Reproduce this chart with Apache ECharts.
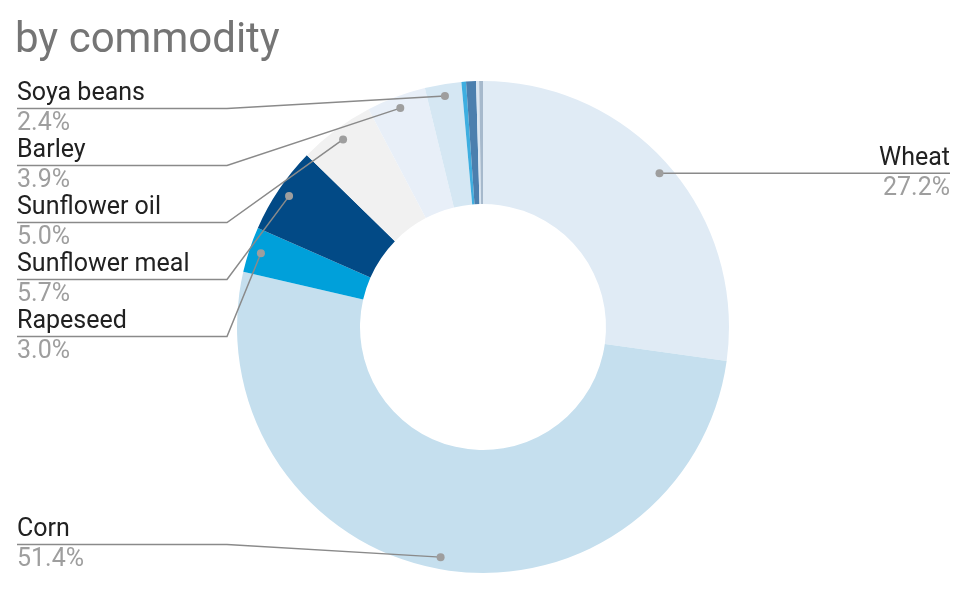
<!DOCTYPE html>
<html>
<head>
<meta charset="utf-8">
<script src="https://cdn.jsdelivr.net/npm/echarts@6/dist/echarts.min.js"></script>
<style>
  html, body { margin: 0; padding: 0; background: #fff; }
  #chart { width: 974px; height: 592px; }
</style>
</head>
<body>
<div id="chart"></div>
<script>
// slices, clockwise from 12 o'clock
var names = ['Wheat', 'Corn', 'Rapeseed', 'Sunflower meal', 'Sunflower oil', 'Barley', 'Soya beans',
  'Other 1', 'Other 2', 'Other 3', 'Other 4'];
var shares = [27.2, 51.4, 3.0, 5.7, 5.0, 3.9, 2.4, 0.3, 0.65, 0.2, 0.25];
var labelled = [true, true, true, true, true, true, true, false, false, false, false];
var colors = ['#e0ebf5', '#c5dfee', '#00a0da', '#024a86', '#f1f1f1', '#e8eff8', '#d5e7f3',
  '#3eaee0', '#4b7fae', '#dae6f1', '#a6b9cc'];

// pie box and geometry
var box = { left: 17, top: 80, right: 24, bottom: 19 };
var center = [466, 247];
var radius = [123, 246];
var cx = box.left + center[0];
var cy = box.top + center[1];
var dotR = 234;

var total = 0;
shares.forEach(function (v) { total += v; });

var sliceData = names.map(function (n, i) {
  return { name: n, value: shares[i], itemStyle: { color: colors[i] } };
});
var labelData = names.map(function (n, i) {
  return {
    name: n,
    value: shares[i],
    label: { show: labelled[i] },
    labelLine: { show: labelled[i] }
  };
});

var pieBase = {
  type: 'pie',
  left: box.left,
  top: box.top,
  right: box.right,
  bottom: box.bottom,
  center: center,
  radius: radius,
  startAngle: 90,
  clockwise: true,
  silent: true,
  emphasis: { disabled: true }
};

var chart = echarts.init(document.getElementById('chart'));
chart.setOption({
  animation: false,
  textStyle: { fontFamily: 'Roboto' },
  title: {
    text: 'by commodity',
    left: 10,
    top: 15,
    textStyle: { fontSize: 42, fontWeight: 'normal', color: '#757575', fontFamily: 'Roboto' }
  },
  series: [
    Object.assign({}, pieBase, {
      z: 1,
      label: { show: false },
      labelLine: { show: false },
      data: sliceData
    }),
    Object.assign({}, pieBase, {
      // transparent copy that carries the labels, so leader lines sit on top of the slices
      z: 3,
      itemStyle: { color: 'rgba(0,0,0,0)' },
      label: {
        alignTo: 'edge',
        edgeDistance: 0,
        distanceToLabelLine: 0,
        formatter: function (p) {
          return '{n|' + p.name + '}\n{p|' + p.value.toFixed(1) + '%}';
        },
        rich: {
          n: { fontSize: 25, color: '#212121', lineHeight: 30, fontFamily: 'Roboto' },
          p: { fontSize: 25, color: '#9e9e9e', lineHeight: 30, fontFamily: 'Roboto' }
        }
      },
      labelLine: {
        show: true,
        length: -12,
        length2: 10,
        lineStyle: { color: '#8a8a8a', width: 1.5 }
      },
      labelLayout: function (params) {
        var pts = params.labelLinePoints;
        if (!pts) return;
        var p0 = pts[0];
        var dx = p0[0] - cx, dy = p0[1] - cy;
        var len = Math.sqrt(dx * dx + dy * dy);
        var dot = [cx + dx / len * dotR, cy + dy / len * dotR];
        var r = params.labelRect;
        var y = r.y + r.height / 2;
        var onLeft = r.x + r.width / 2 < cx;
        var end = onLeft ? r.x : r.x + r.width;
        var bend = onLeft ? r.x + 210 : r.x + r.width - 210;
        if (!onLeft && bend < dot[0]) bend = dot[0];
        return { labelLinePoints: [dot, [bend, y], [end, y]] };
      },
      data: labelData
    }),
    {
      // end dots of the leader lines
      type: 'custom',
      coordinateSystem: 'none',
      silent: true,
      z: 10,
      data: shares,
      renderItem: function (params, api) {
        var i = params.dataIndex;
        if (!labelled[i]) return;
        var before = 0;
        for (var j = 0; j < i; j++) before += shares[j];
        var a = (before + shares[i] / 2) / total * Math.PI * 2;
        return {
          type: 'circle',
          shape: { cx: cx + dotR * Math.sin(a), cy: cy - dotR * Math.cos(a), r: 4 },
          style: { fill: '#9e9e9e' }
        };
      }
    }
  ]
});
</script>
</body>
</html>
